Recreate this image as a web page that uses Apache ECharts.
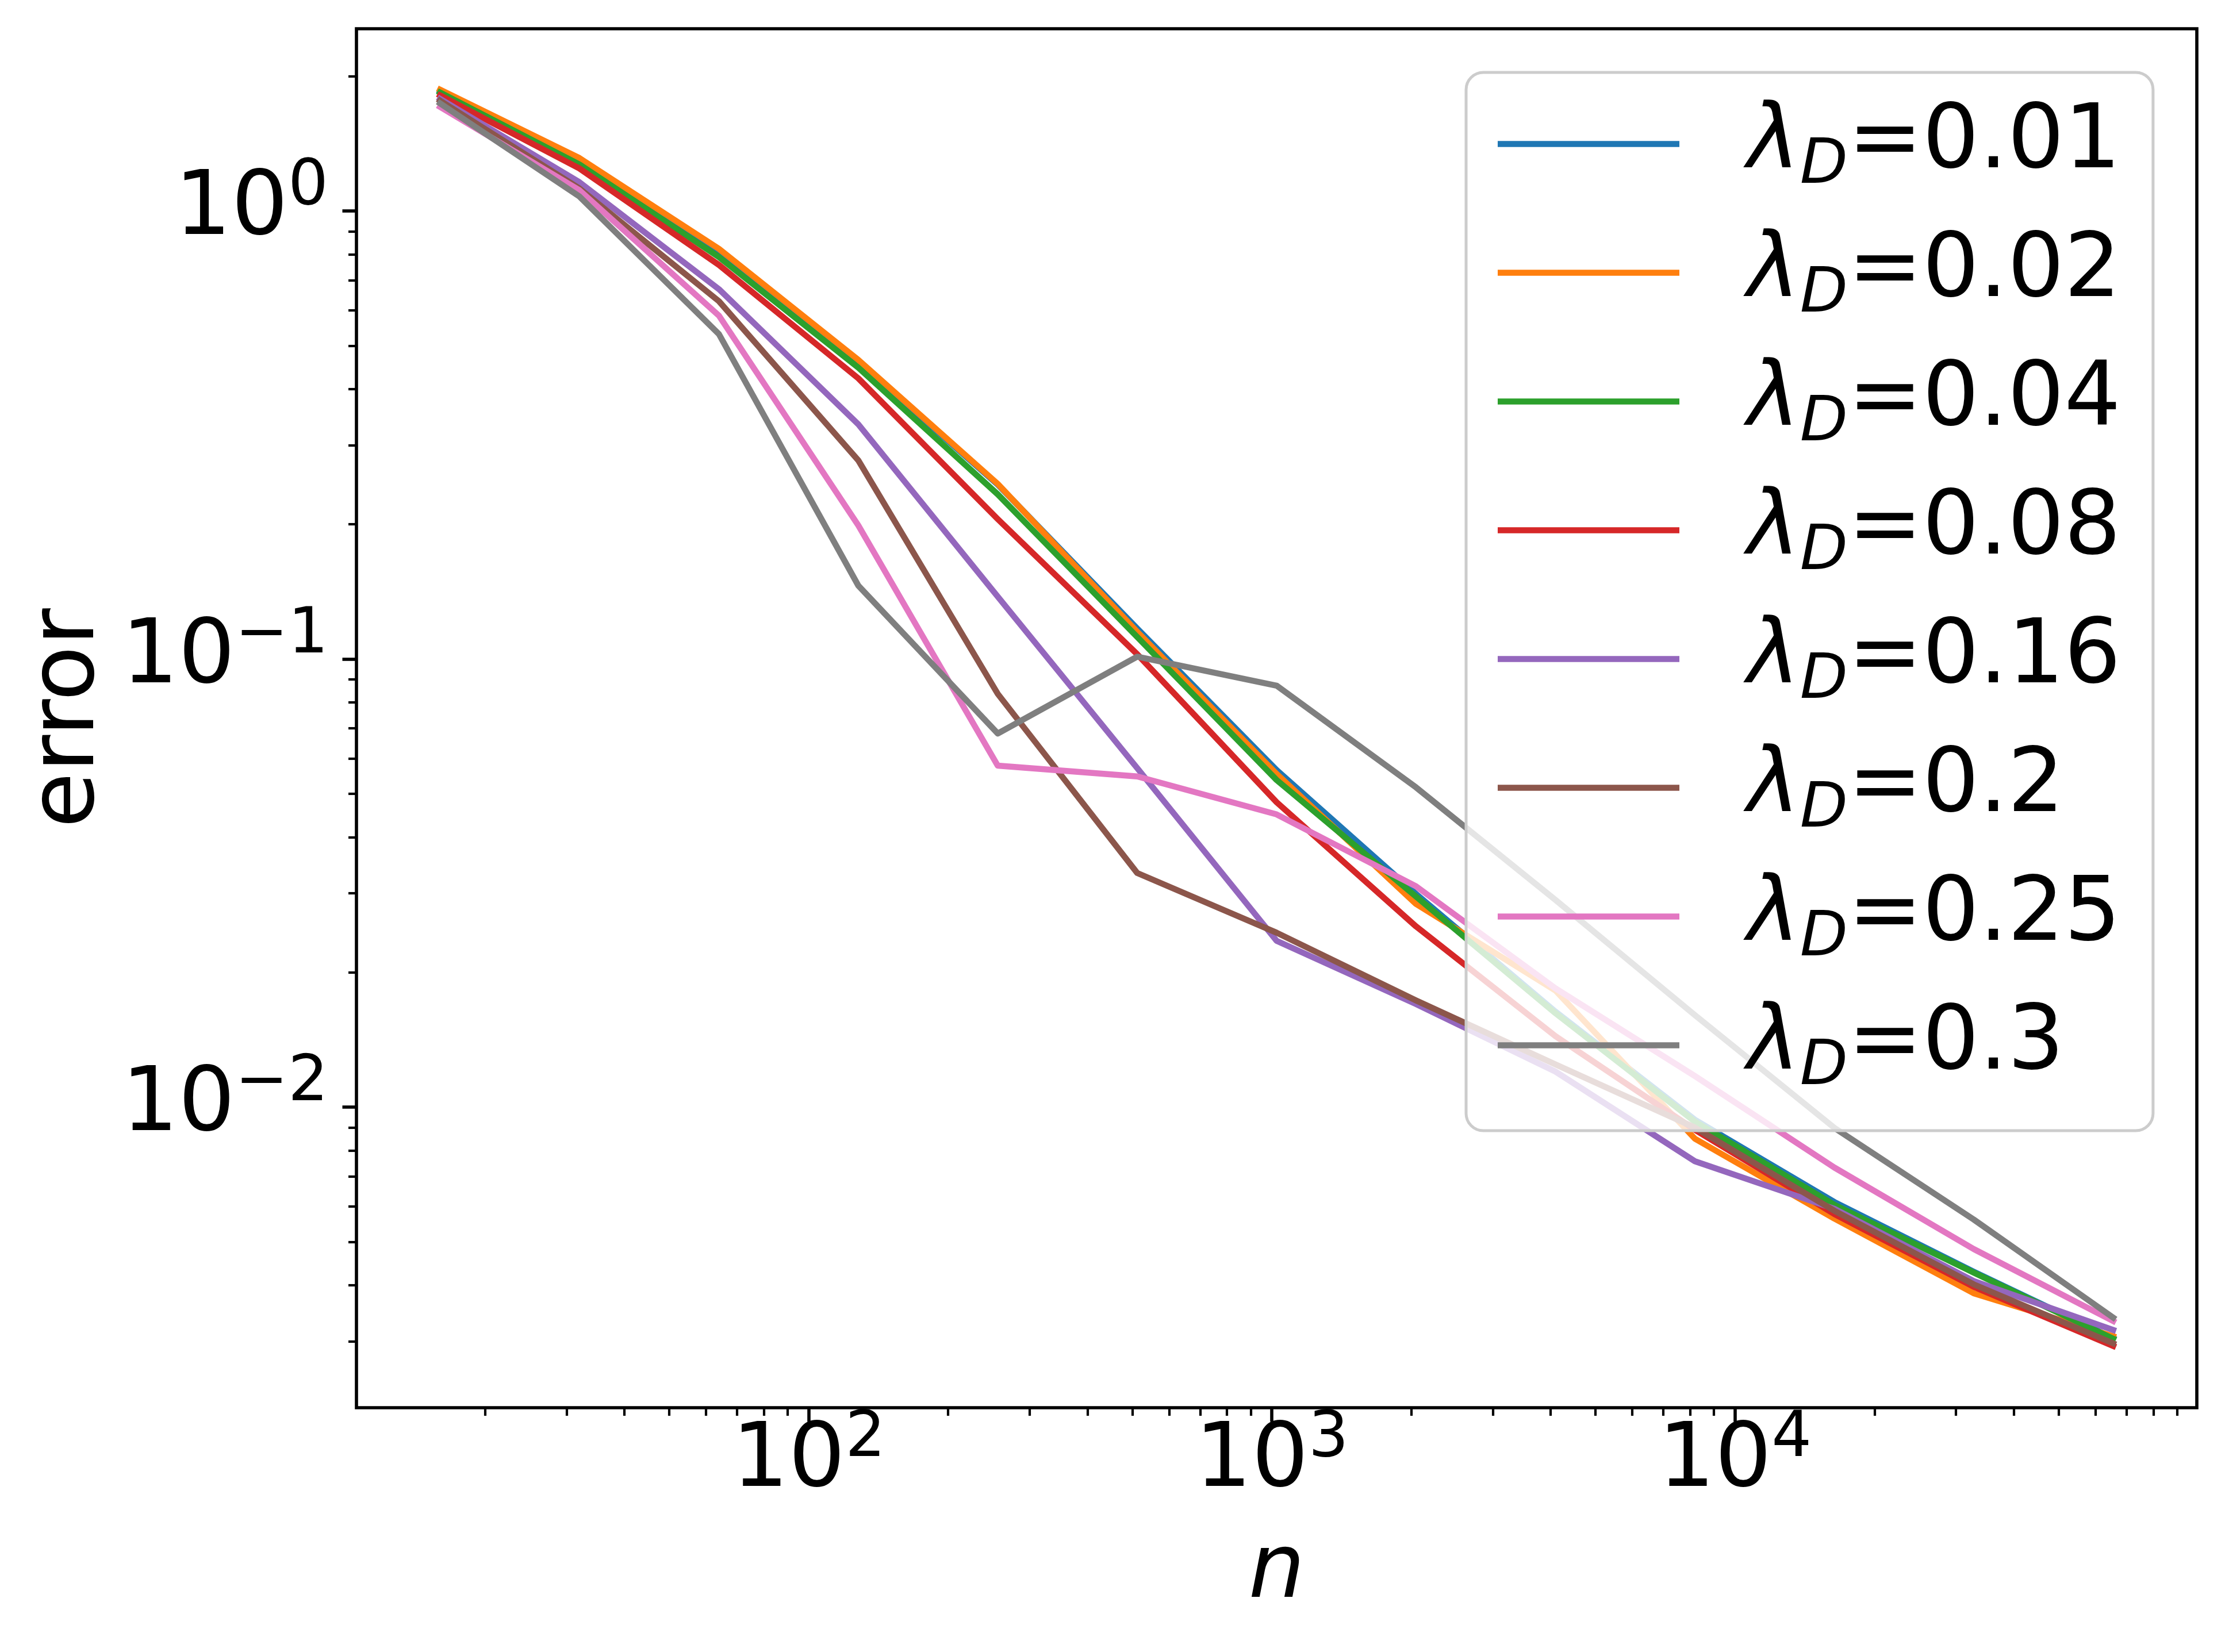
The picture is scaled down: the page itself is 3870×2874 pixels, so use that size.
<!DOCTYPE html>
<html><head><meta charset="utf-8">
<script src="https://cdn.jsdelivr.net/npm/echarts@6/dist/echarts.min.js"></script>
<style>html,body{margin:0;padding:0;background:#fff}#c{width:3870px;height:2874px}</style>
</head><body><div id="c"></div>
<script>
// ---- data ----
const nValues = [16, 32, 64, 128, 256, 512, 1024, 2048, 4096, 8192, 16384, 32768, 65536];
const lambdaLabels = ['0.01', '0.02', '0.04', '0.08', '0.16', '0.2', '0.25', '0.3'];
const err_001 = [1.848, 1.293, 0.811, 0.460, 0.2451, 0.117, 0.0565, 0.0299, 0.01633, 0.00937, 0.00614, 0.00429, 0.00305];
const err_002 = [1.865, 1.312, 0.823, 0.465, 0.2459, 0.115, 0.0554, 0.0284, 0.0182, 0.0085, 0.00564, 0.00384, 0.00308];
const err_004 = [1.838, 1.270, 0.789, 0.447, 0.2331, 0.112, 0.0537, 0.0295, 0.0162, 0.00928, 0.00605, 0.00427, 0.00304];
const err_008 = [1.811, 1.244, 0.758, 0.423, 0.2052, 0.1025, 0.0479, 0.0253, 0.0144, 0.0089, 0.00577, 0.00397, 0.00293];
const err_016 = [1.779, 1.159, 0.669, 0.334, 0.1378, 0.0571, 0.0235, 0.01698, 0.0120, 0.00757, 0.00593, 0.00409, 0.00318];
const err_02  = [1.763, 1.122, 0.629, 0.2775, 0.0836, 0.0333, 0.0245, 0.0173, 0.01245, 0.0090, 0.00587, 0.00402, 0.00297];
const err_025 = [1.707, 1.112, 0.584, 0.1987, 0.0578, 0.0547, 0.0450, 0.0311, 0.0184, 0.01173, 0.00733, 0.00482, 0.00333];
const err_03  = [1.738, 1.077, 0.531, 0.1458, 0.0682, 0.1012, 0.0872, 0.0517, 0.0290, 0.01604, 0.00899, 0.00561, 0.00339];
const xMajorTicks = [100, 1000, 10000];
const xMinorTicks = [20, 30, 40, 50, 60, 70, 80, 90, 200, 300, 400, 500, 600, 700, 800, 900,
  2000, 3000, 4000, 5000, 6000, 7000, 8000, 9000, 20000, 30000, 40000, 50000, 60000, 70000, 80000, 90000];
const yMajorTicks = [0.01, 0.1, 1];
const yMinorTicks = [0.003, 0.004, 0.005, 0.006, 0.007, 0.008, 0.009, 0.02, 0.03, 0.04, 0.05, 0.06, 0.07, 0.08, 0.09,
  0.2, 0.3, 0.4, 0.5, 0.6, 0.7, 0.8, 0.9, 2];
const xLabel = 'n';
const yLabel = 'error';

// ---- style ----
const allSeries = [err_001, err_002, err_004, err_008, err_016, err_02, err_025, err_03];
const colors = ['#1f77b4', '#ff7f0e', '#2ca02c', '#d62728', '#9467bd', '#8c564b', '#e377c2', '#7f7f7f'];
const FONT = 'DejaVu Sans';
const FS = 155, SUP = 110;
const X_MIN = Math.pow(10, 1.0236), X_MAX = Math.pow(10, 4.9971);
const Y_MIN = Math.pow(10, -2.671), Y_MAX = Math.pow(10, 0.4067);

function powLabel(v) {
  const e = Math.round(Math.log10(v));
  return '{b|10}{s|' + String(e).replace('-', '\u2212') + '}';
}
const powRich = {
  b: { fontFamily: FONT, fontSize: FS, color: '#000', lineHeight: 150 },
  s: { fontFamily: FONT, fontSize: SUP, color: '#000', lineHeight: 100, padding: [0, 0, 81, 0] }
};

const chart = echarts.init(document.getElementById('c'), null, { renderer: 'canvas' });
const names = lambdaLabels.map(l => '\u03bbD=' + l);

const option = {
  backgroundColor: '#fff',
  animation: false,
  grid: { left: 620, right: 49, top: 50, bottom: 425, show: true, borderColor: '#000', borderWidth: 5.6, backgroundColor: 'transparent' },
  legend: {
    data: names,
    orient: 'vertical',
    left: 2550, top: 126,
    padding: [31.5, 56, 55.5, 55],
    itemGap: 38,
    icon: 'rect',
    itemWidth: 316, itemHeight: 10.5,
    backgroundColor: 'rgba(255,255,255,0.8)',
    borderColor: '#cccccc', borderWidth: 5, borderRadius: 30,
    selectedMode: false,
    formatter: function (name) { return '{l|\u03bb}{d|D}{t|' + name.slice(2) + '}'; },
    textStyle: {
      fontFamily: FONT, fontSize: FS, color: '#000',
      rich: {
        l: { fontFamily: FONT, fontSize: FS, fontStyle: 'italic', color: '#000', lineHeight: 140, padding: [0, 0, 0, 113] },
        d: { fontFamily: FONT, fontSize: 108, fontStyle: 'italic', color: '#000', lineHeight: 140, padding: [78, 0, 0, 0] },
        t: { fontFamily: FONT, fontSize: FS, color: '#000', lineHeight: 140 }
      }
    }
  },
  xAxis: [{
    type: 'log', logBase: 10, min: X_MIN, max: X_MAX, position: 'bottom',
    name: xLabel, nameLocation: 'middle', nameGap: 211,
    nameTextStyle: { fontFamily: FONT, fontSize: FS, fontStyle: 'italic', color: '#000', lineHeight: 155 },
    axisLine: { show: false },
    splitLine: { show: false },
    minorTick: { show: false },
    axisTick: { show: true, inside: false, length: 24.5, lineStyle: { color: '#000', width: 5.6 }, customValues: xMajorTicks },
    axisLabel: { show: true, margin: 21, customValues: xMajorTicks, formatter: powLabel, rich: powRich, color: '#000' }
  }, {
    type: 'log', logBase: 10, min: X_MIN, max: X_MAX, position: 'bottom',
    axisLine: { show: false }, splitLine: { show: false }, axisLabel: { show: false },
    axisTick: { show: true, inside: false, length: 14, lineStyle: { color: '#000', width: 4.2 }, customValues: xMinorTicks }
  }],
  yAxis: [{
    type: 'log', logBase: 10, min: Y_MIN, max: Y_MAX, position: 'left',
    name: yLabel, nameLocation: 'middle', nameGap: 420,
    nameTextStyle: { fontFamily: FONT, fontSize: 158, color: '#000', lineHeight: 158 },
    axisLine: { show: false },
    splitLine: { show: false },
    minorTick: { show: false },
    axisTick: { show: true, inside: false, length: 24.5, lineStyle: { color: '#000', width: 5.6 }, customValues: yMajorTicks },
    axisLabel: { show: true, margin: 49, customValues: yMajorTicks, formatter: powLabel, rich: powRich, color: '#000' }
  }, {
    type: 'log', logBase: 10, min: Y_MIN, max: Y_MAX, position: 'left',
    axisLine: { show: false }, splitLine: { show: false }, axisLabel: { show: false },
    axisTick: { show: true, inside: false, length: 14, lineStyle: { color: '#000', width: 4.2 }, customValues: yMinorTicks }
  }],
  series: allSeries.map((vals, i) => ({
    name: names[i],
    type: 'line',
    xAxisIndex: 0, yAxisIndex: 0,
    data: nValues.map((n, k) => [n, vals[k]]),
    showSymbol: false, symbol: 'none',
    color: colors[i],
    lineStyle: { color: colors[i], width: 10.5, cap: 'square', join: 'round' },
    emphasis: { disabled: true },
    z: 2
  }))
};
chart.setOption(option);
</script>
</body></html>
